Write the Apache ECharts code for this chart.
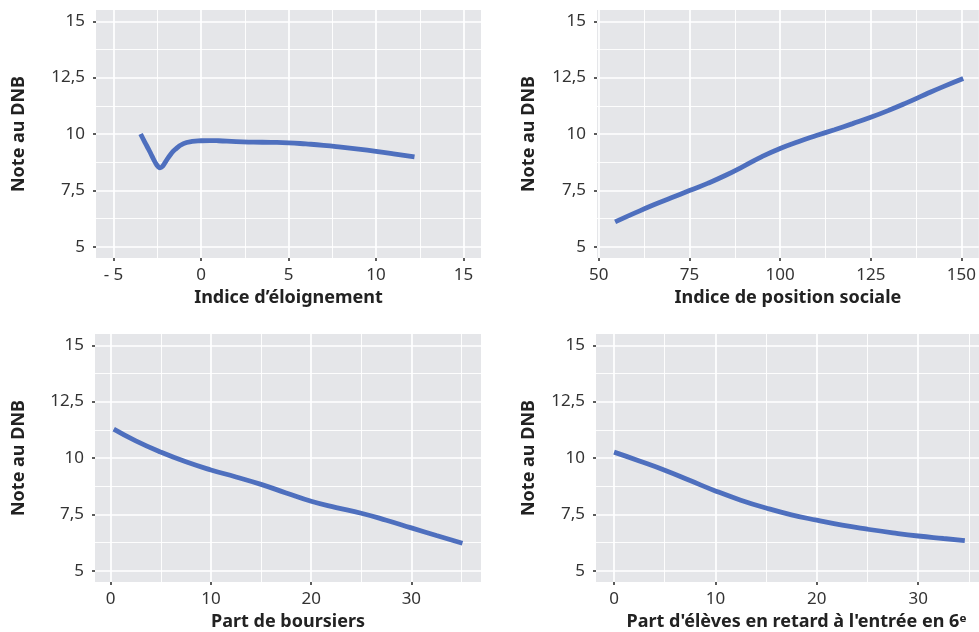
<!DOCTYPE html>
<html>
<head>
<meta charset="utf-8">
<script src="https://cdn.jsdelivr.net/npm/echarts@6/dist/echarts.min.js"></script>
<style>
html,body{margin:0;padding:0;background:#fff;}
#c{width:979px;height:632px;}
</style>
</head>
<body>
<div id="c"></div>
<script>
// ---- data ----
const yTicks = [5, 7.5, 10, 12.5, 15];
const yMinor = [6.25, 8.75, 11.25, 13.75];
const yTitle = 'Note au DNB';

// Panel 1 : Indice d'éloignement
const p1Title = 'Indice d’éloignement';
const p1Ticks = [-5, 0, 5, 10, 15];
const p1Minor = [-2.5, 2.5, 7.5, 12.5];
const p1X = [-3.45, -3.2, -3.0, -2.8, -2.6, -2.45, -2.35, -2.2, -2.0, -1.75, -1.5, -1.0, -0.5, 0, 0.5, 1, 2, 3, 4, 5, 6, 7, 8, 9, 10, 11, 12.2];
const p1Y = [10.0, 9.62, 9.33, 9.02, 8.72, 8.55, 8.5, 8.56, 8.8, 9.08, 9.3, 9.57, 9.67, 9.7, 9.71, 9.7, 9.66, 9.64, 9.63, 9.61, 9.56, 9.5, 9.42, 9.33, 9.23, 9.12, 8.98];

// Panel 2 : Indice de position sociale
const p2Title = 'Indice de position sociale';
const p2Ticks = [50, 75, 100, 125, 150];
const p2Minor = [62.5, 87.5, 112.5, 137.5];
const p2X = [54.5, 60, 65, 70, 75, 80, 85, 90, 95, 100, 105, 110, 115, 120, 125, 130, 135, 140, 145, 150.5];
const p2Y = [6.1, 6.5, 6.85, 7.17, 7.49, 7.81, 8.17, 8.58, 9.0, 9.36, 9.66, 9.93, 10.19, 10.46, 10.74, 11.05, 11.39, 11.75, 12.1, 12.46];

// Panel 3 : Part de boursiers
const p3Title = 'Part de boursiers';
const p3Ticks = [0, 10, 20, 30];
const p3Minor = [5, 15, 25, 35];
const p3X = [0.3, 2.5, 5, 7.5, 10, 12.5, 15, 17.5, 20, 22.5, 25, 27.5, 30, 32.5, 35.1];
const p3Y = [11.28, 10.76, 10.26, 9.83, 9.47, 9.16, 8.83, 8.45, 8.08, 7.8, 7.55, 7.24, 6.9, 6.56, 6.22];

// Panel 4 : Part d'élèves en retard à l'entrée en 6e
const p4Title = 'Part d\'élèves en retard à l\'entrée en 6ᵉ';
const p4Ticks = [0, 10, 20, 30];
const p4Minor = [5, 15, 25, 35];
const p4X = [0, 2.5, 5, 7.5, 10, 12.5, 15, 17.5, 20, 22.5, 25, 27.5, 30, 32.5, 34.6];
const p4Y = [10.26, 9.87, 9.46, 9.0, 8.54, 8.13, 7.78, 7.48, 7.24, 7.02, 6.84, 6.68, 6.54, 6.43, 6.34];

// ---- style ----
const FONT = '"Noto Sans", "DejaVu Sans", sans-serif';
const LINE_COLOR = '#4e6fbe';
const BG = '#e5e6e9';

const panels = [
  {grid: {left: 96, width: 385, top: 10, height: 248}, xmin: -6, xmax: 16, ticks: p1Ticks, minor: p1Minor, title: p1Title, xs: p1X, ys: p1Y, yGap: 68, fmt: v => v < 0 ? '- ' + Math.abs(v) : String(v), pad: 0},
  {grid: {left: 597, width: 382, top: 10, height: 248}, xmin: 49.5, xmax: 154.8, ticks: p2Ticks, minor: p2Minor, title: p2Title, xs: p2X, ys: p2Y, yGap: 59, fmt: v => String(v), pad: 0},
  {grid: {left: 95, width: 386, top: 334, height: 248.7}, xmin: -1.57, xmax: 36.95, ticks: p3Ticks, minor: p3Minor, title: p3Title, xs: p3X, ys: p3Y, yGap: 67, fmt: v => String(v), pad: 0},
  {grid: {left: 596, width: 383, top: 334, height: 248.7}, xmin: -1.78, xmax: 36.0, ticks: p4Ticks, minor: p4Minor, title: p4Title, xs: p4X, ys: p4Y, yGap: 58, fmt: v => String(v), pad: 18}
];

const yFmt = v => String(v).replace('.', ',');

const grid = [], xAxis = [], yAxis = [], series = [];
panels.forEach((p, i) => {
  grid.push(Object.assign({show: true, backgroundColor: BG, borderWidth: 0, containLabel: false}, p.grid));
  // minor x (grid lines only)
  xAxis.push({
    type: 'value', gridIndex: i, min: p.xmin, max: p.xmax, position: 'bottom',
    axisLine: {show: false, onZero: false}, axisLabel: {show: false},
    axisTick: {show: false, customValues: p.minor},
    splitLine: {show: true, lineStyle: {color: '#ffffff', width: 0.9}}, z: 1
  });
  // major x
  xAxis.push({
    type: 'value', gridIndex: i, min: p.xmin, max: p.xmax, position: 'bottom',
    name: p.title, nameLocation: 'middle', nameGap: 31,
    nameTextStyle: {fontFamily: FONT, fontWeight: 'bold', fontSize: 18, color: '#222', padding: [0, 0, 0, p.pad]},
    axisLine: {show: false, onZero: false},
    axisTick: {show: true, length: 3, customValues: p.ticks, lineStyle: {color: '#333', width: 1.6}},
    axisLabel: {show: true, customValues: p.ticks, margin: 9, fontFamily: FONT, fontSize: 17, color: '#333', formatter: p.fmt},
    splitLine: {show: true, lineStyle: {color: '#ffffff', width: 1.7}}, z: 2
  });
  // minor y
  yAxis.push({
    type: 'value', gridIndex: i, min: 4.5, max: 15.5, position: 'left',
    axisLine: {show: false, onZero: false}, axisLabel: {show: false},
    axisTick: {show: false, customValues: yMinor},
    splitLine: {show: true, lineStyle: {color: '#ffffff', width: 0.9}}, z: 1
  });
  // major y
  yAxis.push({
    type: 'value', gridIndex: i, min: 4.5, max: 15.5, position: 'left',
    name: yTitle, nameLocation: 'middle', nameGap: p.yGap, nameRotate: 90,
    nameTextStyle: {fontFamily: FONT, fontWeight: 'bold', fontSize: 18, color: '#222'},
    axisLine: {show: false, onZero: false},
    axisTick: {show: true, length: 3, customValues: yTicks, lineStyle: {color: '#333', width: 1.6}},
    axisLabel: {show: true, customValues: yTicks, margin: 11, fontFamily: FONT, fontSize: 17, color: '#333', formatter: yFmt},
    splitLine: {show: true, lineStyle: {color: '#ffffff', width: 1.7}}, z: 2
  });
  series.push({
    type: 'line', xAxisIndex: 2 * i + 1, yAxisIndex: 2 * i + 1,
    data: p.xs.map((x, k) => [x, p.ys[k]]),
    smooth: 0.5, showSymbol: false, symbol: 'none',
    lineStyle: {color: LINE_COLOR, width: 4.8, cap: 'butt'},
    z: 5, silent: true, animation: false
  });
});

const chart = echarts.init(document.getElementById('c'), null, {renderer: 'canvas'});
chart.setOption({animation: false, grid, xAxis, yAxis, series});
</script>
</body>
</html>
